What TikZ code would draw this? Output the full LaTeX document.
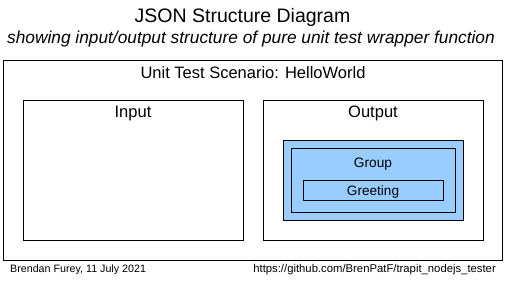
\documentclass[tikz,border=0pt]{standalone}
\usepackage{fontspec}
\setmainfont{Liberation Sans}
\usepackage{tikz}
\definecolor{groupblue}{rgb}{0.6,0.8,1.0}

\begin{document}
\begin{tikzpicture}[x=1pt, y=-1pt,
    box/.style={rectangle, draw, line width=0.9pt, inner sep=0pt, outer sep=0pt},
    grpbox/.style={box, fill=groupblue},
    txt/.style={anchor=base, inner sep=0pt, font=\fontsize{16.5}{19}\selectfont}
]
    \useasboundingbox (0,0) rectangle (507,281);

    % Heading
    \node[txt, font=\fontsize{19.5}{23}\selectfont] (title) at (242.5,23) {JSON Structure Diagram};
    \node[txt, font=\fontsize{17.3}{20}\selectfont\itshape] (subtitle) at (251,43) {showing input/output structure of pure unit test wrapper function};

    % Boxes
    \node[box, minimum width=499pt, minimum height=200pt] (scenario) at (252.5,160) {};
    \node[box, minimum width=220pt, minimum height=140pt] (input) at (133,170) {};
    \node[box, minimum width=220pt, minimum height=140pt] (output) at (373,170) {};
    \node[grpbox, minimum width=180pt, minimum height=80pt] (groupout) at (373,180) {};
    \node[grpbox, minimum width=164pt, minimum height=64pt] (group) at (373,180) {};
    \node[grpbox, minimum width=140pt, minimum height=20pt] (greeting) at (373,190) {};

    % Box labels
    \node[txt] (scenlbl) at (253,78) {Unit Test Scenario: HelloWorld};
    \node[txt] (inlbl) at (133,117) {Input};
    \node[txt] (outlbl) at (373,117) {Output};
    \node[txt, font=\fontsize{13.7}{16}\selectfont] (grplbl) at (373,167) {Group};
    \node[txt, font=\fontsize{13.6}{16}\selectfont] (greetlbl) at (373,195) {Greeting};

    % Footer
    \node[txt, anchor=base west, font=\fontsize{10.7}{13}\selectfont] (author) at (10,272) {Brendan Furey, 11 July 2021};
    \node[txt, anchor=base east, font=\fontsize{11.3}{13}\selectfont] (url) at (496,272) {https://github.com/BrenPatF/trapit\_nodejs\_tester};
\end{tikzpicture}
\end{document}
